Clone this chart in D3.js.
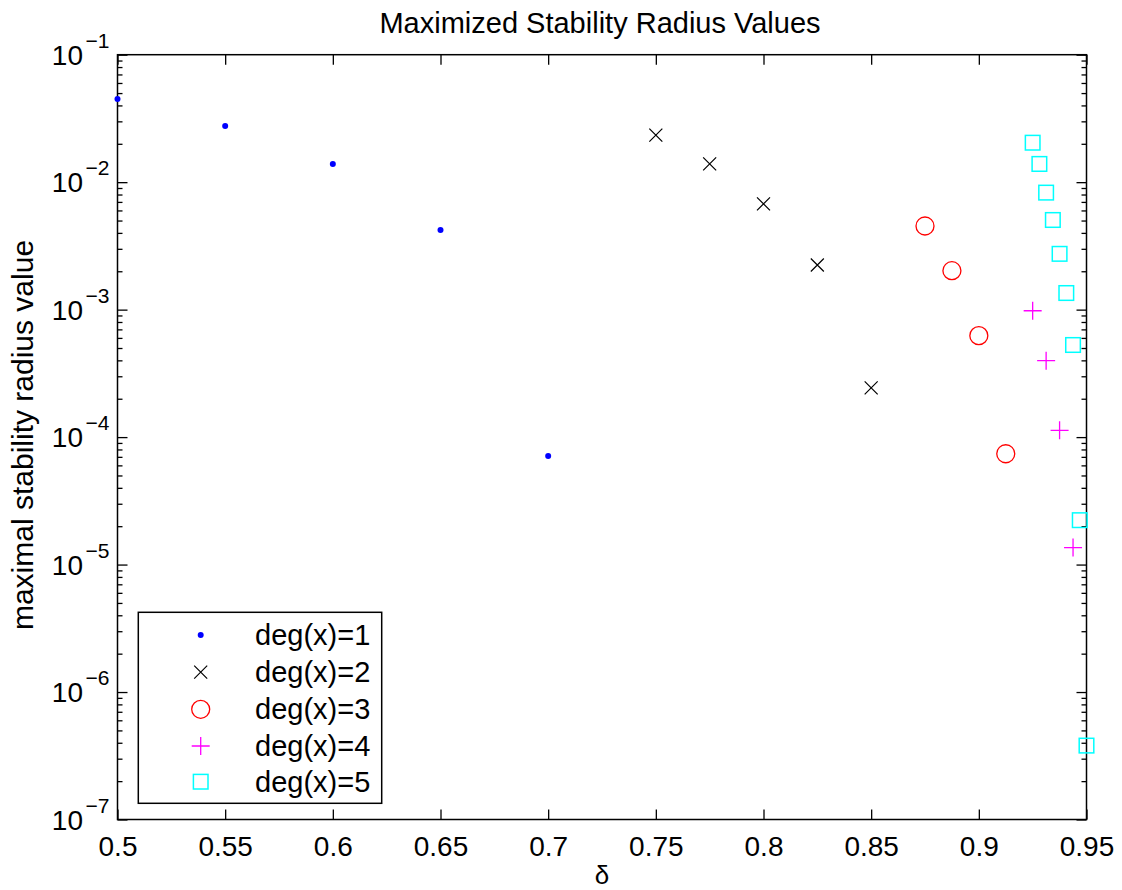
<!DOCTYPE html>
<html><head><meta charset="utf-8">
<script src="https://cdn.jsdelivr.net/npm/d3@7"></script>
<style>
body{margin:0;background:#fff}
text{font-family:"Liberation Sans",Arial,Helvetica,sans-serif;fill:#000}
</style>
</head><body>
<svg id="chart" width="1122" height="890"></svg>
<script>
// ---- data ----
const deg1X = [0.5, 0.55, 0.6, 0.65, 0.7];
const deg1Y = [0.045, 0.0276, 0.0139, 0.00422, 7.1e-5];
const deg2X = [0.75, 0.775, 0.8, 0.825, 0.85];
const deg2Y = [0.0234, 0.0139, 0.00675, 0.00224, 2.43e-4];
const deg3X = [0.875, 0.8875, 0.9, 0.9125];
const deg3Y = [0.00453, 0.00202, 6.25e-4, 7.4e-5];
const deg4X = [0.925, 0.93125, 0.9375, 0.94375];
const deg4Y = [9.8e-4, 3.98e-4, 1.13e-4, 1.36e-5];
const deg5X = [0.925, 0.928125, 0.93125, 0.934375, 0.9375, 0.940625, 0.94375, 0.946875, 0.95];
const deg5Y = [0.0204, 0.0139, 0.00828, 0.00505, 0.00274, 0.00135, 5.28e-4, 2.23e-5, 3.8e-7];
const legendLabels = ["deg(x)=1", "deg(x)=2", "deg(x)=3", "deg(x)=4", "deg(x)=5"];
const xTicks = [0.5, 0.55, 0.6, 0.65, 0.7, 0.75, 0.8, 0.85, 0.9, 0.95];
const yExponents = [-7, -6, -5, -4, -3, -2, -1];
const titleText = "Maximized Stability Radius Values";
const xLabelText = "δ";
const yLabelText = "maximal stability radius value";

// ---- layout ----
const L = 117.5, R = 1086.5, T = 54.7, B = 819.5;
const svg = d3.select("#chart");
const x = d3.scaleLinear().domain([0.5, 0.95]).range([L, R]);
const y = d3.scaleLog().domain([1e-7, 1e-1]).range([B, T]);

const majors = yExponents.map(e => Math.pow(10, e));
const minors = [];
yExponents.slice(0, -1).forEach(e => { for (let k = 2; k <= 9; k++) minors.push(k * Math.pow(10, e)); });

function styleAxis(g) {
  g.select(".domain").remove();
  g.selectAll("line").attr("stroke", "#000").attr("stroke-width", 1.3);
}
// bottom
svg.append("g").attr("transform", `translate(0,${B})`)
  .call(d3.axisBottom(x).tickValues(xTicks).tickSize(-10).tickSizeOuter(0).tickPadding(16.5).tickFormat(d3.format("")))
  .call(styleAxis)
  .call(g => g.selectAll("text").attr("font-size", 28).attr("fill", "#000"));
// top
svg.append("g").attr("transform", `translate(0,${T})`)
  .call(d3.axisTop(x).tickValues(xTicks).tickSize(-10).tickSizeOuter(0).tickFormat(""))
  .call(styleAxis);
// left / right majors and minors
svg.append("g").attr("transform", `translate(${L},0)`)
  .call(d3.axisLeft(y).tickValues(majors).tickSize(-10).tickSizeOuter(0).tickFormat(""))
  .call(styleAxis);
svg.append("g").attr("transform", `translate(${L},0)`)
  .call(d3.axisLeft(y).tickValues(minors).tickSize(-5).tickSizeOuter(0).tickFormat(""))
  .call(styleAxis);
svg.append("g").attr("transform", `translate(${R},0)`)
  .call(d3.axisRight(y).tickValues(majors).tickSize(-10).tickSizeOuter(0).tickFormat(""))
  .call(styleAxis);
svg.append("g").attr("transform", `translate(${R},0)`)
  .call(d3.axisRight(y).tickValues(minors).tickSize(-5).tickSizeOuter(0).tickFormat(""))
  .call(styleAxis);

// y tick labels with superscripts
yExponents.forEach(e => {
  const yy = y(Math.pow(10, e));
  svg.append("text").attr("x", 83).attr("y", yy + 10).attr("text-anchor", "end").attr("font-size", 28).text("10");
  svg.append("text").attr("x", 85.5).attr("y", yy - 7).attr("font-size", 21).text("\u2212" + Math.abs(e));
});

// frame
svg.append("rect").attr("x", L).attr("y", T).attr("width", R - L).attr("height", B - T)
  .attr("fill", "none").attr("stroke", "#000").attr("stroke-width", 1.5);

// ---- markers ----
const markerDefs = [
  {xs: deg1X, ys: deg1Y, type: "dot", color: "#0000ff"},
  {xs: deg2X, ys: deg2Y, type: "x", color: "#000000"},
  {xs: deg3X, ys: deg3Y, type: "circle", color: "#ff0000"},
  {xs: deg4X, ys: deg4Y, type: "plus", color: "#ff00ff"},
  {xs: deg5X, ys: deg5Y, type: "square", color: "#00ffff"}
];
function drawMarker(g, px, py, type, color) {
  if (type === "dot") {
    g.append("circle").attr("cx", px).attr("cy", py).attr("r", 3).attr("fill", color);
  } else if (type === "x") {
    const s = 6.5;
    g.append("path").attr("d", `M${px - s},${py - s}L${px + s},${py + s}M${px - s},${py + s}L${px + s},${py - s}`)
      .attr("stroke", color).attr("stroke-width", 1.2).attr("fill", "none");
  } else if (type === "circle") {
    g.append("circle").attr("cx", px).attr("cy", py).attr("r", 9).attr("fill", "none")
      .attr("stroke", color).attr("stroke-width", 1.3);
  } else if (type === "plus") {
    const s = 9;
    g.append("path").attr("d", `M${px - s},${py}L${px + s},${py}M${px},${py - s}L${px},${py + s}`)
      .attr("stroke", color).attr("stroke-width", 1.3).attr("fill", "none");
  } else if (type === "square") {
    const s = 7.3;
    g.append("rect").attr("x", px - s).attr("y", py - s).attr("width", 2 * s).attr("height", 2 * s)
      .attr("fill", "none").attr("stroke", color).attr("stroke-width", 1.5);
  }
}
const plotG = svg.append("g");
markerDefs.forEach(m => {
  m.xs.forEach((xv, i) => drawMarker(plotG, x(xv), y(m.ys[i]), m.type, m.color));
});

// ---- legend ----
const lg = svg.append("g");
lg.append("rect").attr("x", 138.3).attr("y", 612.3).attr("width", 243.4).attr("height", 191)
  .attr("fill", "#fff").attr("stroke", "#000").attr("stroke-width", 1.5);
const rowY = [635, 672.2, 709.3, 746, 781.7];
markerDefs.forEach((m, i) => {
  drawMarker(lg, 200.7, rowY[i], m.type, m.color);
  lg.append("text").attr("x", 255).attr("y", rowY[i] + 10).attr("font-size", 29).text(legendLabels[i]);
});

// ---- titles ----
svg.append("text").attr("x", 600).attr("y", 33).attr("text-anchor", "middle").attr("font-size", 29).text(titleText);
svg.append("text").attr("x", 602).attr("y", 884).attr("text-anchor", "middle").attr("font-size", 26).text(xLabelText);
svg.append("text").attr("transform", `translate(33,435) rotate(-90)`).attr("text-anchor", "middle").attr("font-size", 30).text(yLabelText);
</script>
</body></html>
